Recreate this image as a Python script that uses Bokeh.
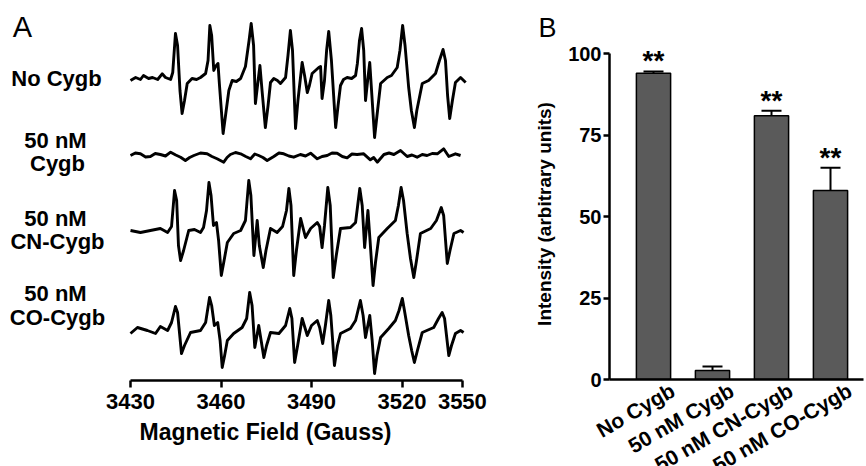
from bokeh.plotting import figure
from bokeh.layouts import row
from bokeh.models import Range1d, FixedTicker, ColumnDataSource, Whisker, TeeHead
from bokeh.core.properties import value
from bokeh.embed import file_html
from bokeh.resources import INLINE
import math

FONT = "Liberation Sans"

# ---------------- Panel A: EPR spectra (field in Gauss, signal in arbitrary units) -----
field_no = [3430.0, 3431.7, 3433.3, 3434.3, 3436.0, 3437.3, 3439.0, 3440.5, 3441.6, 3443.3,
            3444.0, 3444.9, 3445.6, 3446.4, 3447.1, 3447.9, 3448.8, 3450.4, 3451.9, 3453.2,
            3454.9, 3455.7, 3456.3, 3456.9, 3457.6, 3458.2, 3459.0, 3459.5, 3460.7, 3461.5,
            3462.6, 3463.7, 3465.1, 3466.5, 3468.1, 3469.3, 3470.0, 3470.8, 3471.4, 3472.1,
            3472.9, 3473.6, 3474.7, 3475.6, 3476.4, 3477.5, 3478.7, 3479.7, 3481.4, 3482.2,
            3483.0, 3483.7, 3484.7, 3485.5, 3486.9, 3487.7, 3488.6, 3489.3, 3490.2, 3491.3,
            3492.4, 3493.0, 3493.5, 3494.3, 3495.0, 3495.7, 3496.6, 3498.0, 3498.8, 3499.6,
            3500.6, 3501.8, 3503.3, 3504.6, 3505.2, 3505.9, 3506.6, 3507.3, 3507.9, 3508.6,
            3509.3, 3509.9, 3510.9, 3511.7, 3512.9, 3515.1, 3516.5, 3518.4, 3519.3, 3520.2,
            3521.0, 3522.2, 3523.1, 3524.1, 3524.9, 3526.7, 3528.8, 3531.1, 3532.4, 3533.6,
            3534.4, 3535.1, 3535.8, 3536.7, 3537.7, 3539.4, 3541.1]
signal_no = [-2, 1, -1, 3, 0, 1, -1, 4.7, 1, -1,
             6, 45, 33, -12, -35, -22, -5, 0, -1, 1,
             5, 18, 53, 43, 8, 12, 15, -7, -55, -37,
             -12, -2, -3, 0, 12, 38, 55, 33, -25, -7,
             13, -12, -49, -27, -4, 0, -2, -5, 1, 23,
             48, 28, -50, -22, 16, 3, -14, -7, 5, 8,
             11, 12, -20, -2, 28, 47, 18, -49, -27, -7,
             -1, 1, 0, 3, 15, 38, 50, 28, -22, -2,
             16, -12, -59, -37, -5, 1, 3, 11, 28, 53,
             33, -9, -32, -49, -32, -5, -2, 5, 18, 29,
             18, -17, -40, -22, -4, 1, -4]

field_cygb = [3430.0, 3431.6, 3433.3, 3435.0, 3436.6, 3438.2, 3439.9, 3441.6, 3443.3, 3445.0,
              3446.6, 3448.2, 3449.6, 3451.0, 3453.2, 3455.4, 3457.0, 3458.7, 3460.9, 3462.0,
              3463.1, 3464.8, 3466.5, 3468.2, 3469.8, 3471.2, 3472.5, 3473.9, 3475.3, 3477.5,
              3479.2, 3480.8, 3482.5, 3484.1, 3486.3, 3488.0, 3489.7, 3491.9, 3493.5, 3495.2,
              3496.8, 3498.5, 3500.2, 3501.8, 3503.4, 3505.1, 3507.3, 3509.5, 3510.6, 3511.8,
              3514.0, 3515.7, 3517.3, 3519.5, 3521.7, 3523.3, 3525.0, 3526.7, 3528.3, 3530.0,
              3531.7, 3533.8, 3535.5, 3537.7, 3539.4]
signal_cygb = [0, 2.5, 1.7, -1.5, -1, 2, 1, -0.5, 3.3, 0.5,
               -1.7, -5, -2, 0, 2.5, 1.7, -1, -3.3, -6.7, -2,
               1, 3, 1.7, -1, -3.3, 1.5, 0, -2, -5, -1,
               2.5, 1.7, -0.5, -1.7, 1, -0.5, 2.3, -3.3, -1, 0,
               2.5, 2.3, -1, -2.3, 1.5, 1, 1.7, -4.3, -2, -6.7,
               1, 2.5, 1, 5, -1, 0.5, -1.7, 1, 0, 2,
               1.7, 6.7, -1, 1.7, 0]

field_cn = [3430.0, 3433.3, 3436.6, 3439.9, 3442.3, 3443.6, 3444.6, 3445.3, 3445.9, 3446.6,
            3447.6, 3449.3, 3451.2, 3453.2, 3454.2, 3455.2, 3456.0, 3456.7, 3457.5, 3458.5,
            3459.2, 3460.1, 3460.9, 3462.1, 3464.2, 3466.5, 3468.1, 3469.2, 3469.9, 3470.9,
            3472.0, 3472.7, 3474.0, 3474.9, 3476.4, 3478.6, 3480.4, 3481.7, 3482.5, 3483.2,
            3484.1, 3485.0, 3486.4, 3488.0, 3489.7, 3491.9, 3492.7, 3493.5, 3494.3, 3495.4,
            3496.2, 3497.2, 3498.2, 3499.6, 3502.9, 3504.6, 3506.0, 3506.8, 3507.6, 3508.7,
            3509.4, 3510.4, 3511.2, 3512.3, 3515.1, 3517.8, 3518.8, 3519.7, 3520.5, 3521.7,
            3522.8, 3523.9, 3524.8, 3526.1, 3529.5, 3531.4, 3533.0, 3533.8, 3535.0, 3535.9,
            3537.2, 3539.4, 3540.4]
signal_cn = [0, -2, 0, 2, -2, 4, 40, 30, -15, -30,
             -20, 0, 1, -2, 3, 20, 48, 35, 5, 8,
             -10, -45, -32, -12, -3, 0, 10, 50, 35, -25,
             10, -15, -37, -20, 2, -2, 4, 20, 42, 25,
             -45, -20, 12, -7, 2, 8, 4, -17, 5, 43,
             25, -47, -25, 2, 3, 8, 42, 25, -17, 20,
             -10, -55, -32, -7, 2, 10, 25, 43, 30, -3,
             -28, -47, -30, -3, 2, 10, 23, 15, -33, -20,
             -3, 0, -2]

field_co = [3430.0, 3432.3, 3435.6, 3438.3, 3439.9, 3442.3, 3443.6, 3444.9, 3445.6, 3446.9,
            3447.9, 3449.9, 3453.2, 3454.9, 3456.2, 3456.9, 3457.8, 3458.9, 3459.7, 3460.4,
            3461.2, 3462.1, 3464.2, 3467.0, 3468.5, 3469.5, 3470.3, 3471.2, 3472.5, 3473.3,
            3474.2, 3475.1, 3476.4, 3479.2, 3481.4, 3482.8, 3483.5, 3484.4, 3485.4, 3486.9,
            3488.6, 3490.0, 3491.9, 3492.7, 3493.7, 3494.6, 3495.7, 3496.4, 3497.6, 3498.6,
            3499.6, 3502.9, 3504.6, 3506.2, 3507.1, 3507.9, 3509.3, 3510.1, 3510.9, 3511.7,
            3512.9, 3515.6, 3517.8, 3519.0, 3520.1, 3520.8, 3522.2, 3523.2, 3524.1, 3525.1,
            3526.7, 3530.5, 3532.1, 3533.3, 3534.1, 3535.5, 3536.4, 3537.7, 3539.4, 3540.4]
signal_co = [-1, 5, 2, -1, 6, 2, 10, 26, 20, -21,
             -13, 0, 2, 10, 35, 27, 7, 10, -8, -35,
             -23, -8, -1, 5, 14, 40, 27, -15, 7, -8,
             -25, -13, 0, -1, 7, 24, 14, -30, -13, 14,
             -3, 7, 12, 5, -11, 7, 32, 17, -33, -13,
             -1, 4, 12, 32, 17, -5, 17, -8, -41, -23,
             -5, 4, 12, 22, 34, 22, -3, -18, -30, -18,
             0, 5, 14, 20, 14, -23, -13, -1, 2, 0]

field_ticks = [3430, 3460, 3490, 3520, 3540]
field_tick_labels = ["3430", "3460", "3490", "3520", "3550"]

trace_labels = [["No Cygb"], ["50 nM", "Cygb"], ["50 nM", "CN-Cygb"], ["50 nM", "CO-Cygb"]]

# ---------------- Panel B: bar chart -----------------------------------------------
conditions = ["No Cygb", "50 nM Cygb", "50 nM CN-Cygb", "50 nM CO-Cygb"]
intensity = [94.0, 2.8, 81.0, 58.0]
intensity_err = [0.6, 1.2, 1.5, 7.0]
significance = ["**", "", "**", "**"]
intensity_ticks = [0, 25, 50, 75, 100]

# ================= Panel A figure =================
WA, HA = 530, 466
FA_H = 380
PX = 1.0 / 3.017          # gauss per pixel
x0 = 3430 - 130 * PX
pA = figure(width=WA, height=HA, frame_width=WA, frame_height=FA_H, frame_align=False,
            output_backend="svg", toolbar_location=None, title=None,
            x_range=Range1d(x0, x0 + WA * PX), y_range=Range1d(0, FA_H),
            y_axis_location=None, min_border_left=0, min_border_right=0,
            min_border_top=0, min_border_bottom=HA - FA_H)
pA.outline_line_color = None
pA.grid.visible = False
pA.background_fill_color = "white"
pA.border_fill_color = "white"

baselines = [302, 225, 150, 48]
traces = [(field_no, signal_no), (field_cygb, signal_cygb), (field_cn, signal_cn), (field_co, signal_co)]
for (fx, sy), b in zip(traces, baselines):
    pA.line(fx, [v + b for v in sy], line_color="black", line_width=2.9, line_join="round")

ax = pA.xaxis[0]
ax.bounds = (3430, 3540)
ax.ticker = FixedTicker(ticks=field_ticks)
ax.major_label_overrides = {t: l for t, l in zip(field_ticks, field_tick_labels)}
ax.minor_tick_line_color = None
ax.axis_line_width = 2.5
ax.major_tick_line_width = 2.5
ax.major_tick_out = 7
ax.major_tick_in = 0
ax.major_label_standoff = 6
ax.major_label_text_font = FONT
ax.major_label_text_font_style = "bold"
ax.major_label_text_font_size = "22px"
ax.major_label_text_color = "black"
ax.axis_label = "Magnetic Field (Gauss)"
ax.axis_label_text_font = FONT
ax.axis_label_text_font_style = "bold"
ax.axis_label_text_font_size = "23px"
ax.axis_label_standoff = 7
ax.axis_label_text_color = "black"

def ax_x(px):
    return x0 + px * PX

def ax_y(py):
    return FA_H - py

label_pos = [[(56, 78)], [(55, 140), (57, 163)], [(55, 218), (57, 241)], [(55, 293), (57, 317)]]
lx, ly, lt = [], [], []
for lines, poss in zip(trace_labels, label_pos):
    for t, (px, py) in zip(lines, poss):
        lx.append(ax_x(px)); ly.append(ax_y(py)); lt.append(t)
pA.text(x=lx, y=ly, text=lt, text_font=value(FONT), text_font_style="bold",
        text_font_size="22px", text_align="center", text_baseline="middle", text_color="black")
pA.text(x=[ax_x(22)], y=[ax_y(26)], text=["A"], text_font=value(FONT),
        text_font_size="29px", text_align="center", text_baseline="middle", text_color="black")

# ================= Panel B figure =================
WB, HB = 336, 466
UNIT_Y = 3.257   # px per intensity unit
UNIT_X = 59.0    # px per category
FB_TOP, FB_BOTTOM, FB_LEFT, FB_W = 48, 379, 79, 254
FB_H = FB_BOTTOM - FB_TOP
xs = [1, 2, 3, 4]
xstart = 1 - 44 / UNIT_X
pB = figure(width=WB, height=HB, frame_width=FB_W, frame_height=FB_H, frame_align=False,
            output_backend="svg", toolbar_location=None,
            x_range=Range1d(xstart, xstart + FB_W / UNIT_X), y_range=Range1d(0, FB_H / UNIT_Y),
            min_border_left=FB_LEFT, min_border_right=WB - FB_LEFT - FB_W, min_border_top=FB_TOP,
            min_border_bottom=HB - FB_BOTTOM)
pB.outline_line_color = None
pB.grid.visible = False
pB.background_fill_color = "white"
pB.border_fill_color = "white"
pB.title.text = "B"
pB.title.text_font = FONT
pB.title.text_font_style = "normal"
pB.title.text_font_size = "27px"
pB.title.align = "left"
pB.title.offset = 8 - FB_LEFT
pB.title.standoff = 12
pB.title.text_color = "black"

tops = [v + e for v, e in zip(intensity, intensity_err)]
src = ColumnDataSource(dict(x=xs, v=intensity, upper=tops, lbl=conditions))
pB.vbar(x="x", top="v", width=0.58, source=src, fill_color="#5a5a5a",
        line_color="black", line_width=1.5)
pB.add_layout(Whisker(base="x", lower="v", upper="upper", source=src, dimension="height",
                      line_width=2, line_color="black", lower_head=None,
                      upper_head=TeeHead(size=20, line_width=2, line_color="black"),
                      level="glyph"))
sx = [x for x, s in zip(xs, significance) if s]
sy = [t + 3.3 for t, s in zip(tops, significance) if s]
st = [s for s in significance if s]
pB.text(x=sx, y=sy, text=st, text_font=value(FONT), text_font_style="bold",
        text_font_size="28px", text_align="center", text_baseline="alphabetic", text_color="black")

yb = pB.yaxis[0]
yb.bounds = (0, 100)
yb.ticker = FixedTicker(ticks=intensity_ticks)
yb.minor_tick_line_color = None
yb.axis_line_width = 2.5
yb.major_tick_line_width = 2.5
yb.major_tick_out = 6
yb.major_tick_in = 0
yb.major_label_standoff = 2
yb.major_label_text_font = FONT
yb.major_label_text_font_style = "bold"
yb.major_label_text_font_size = "20px"
yb.major_label_text_color = "black"
yb.axis_label = "Intensity (arbitrary units)"
yb.axis_label_text_font = FONT
yb.axis_label_text_font_style = "bold"
yb.axis_label_text_font_size = "19px"
yb.axis_label_standoff = 10
yb.axis_label_text_color = "black"

label_shift = 0.33   # rotated category labels sit slightly right of the bar centres
xb = pB.xaxis[0]
xb.bounds = (xstart, xstart + FB_W / UNIT_X)
xb.ticker = FixedTicker(ticks=[x + label_shift for x in xs])
xb.major_label_overrides = {x + label_shift: c for x, c in zip(xs, conditions)}
xb.minor_tick_line_color = None
xb.major_tick_line_color = None
xb.axis_line_width = 2.5
xb.major_label_orientation = math.pi / 6
xb.major_label_standoff = 3
xb.major_label_text_font = FONT
xb.major_label_text_font_style = "bold"
xb.major_label_text_font_size = "21px"
xb.major_label_text_color = "black"

layout = row(pA, pB)
open("out.html", "w").write(file_html(layout, INLINE))
